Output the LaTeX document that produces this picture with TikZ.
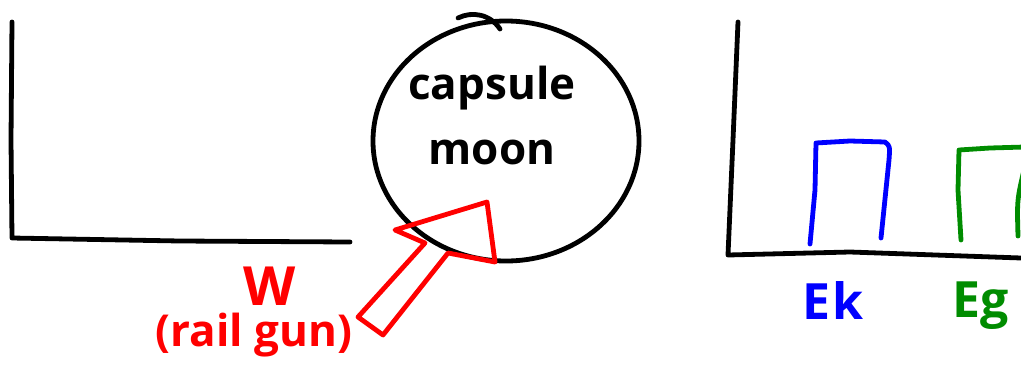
\documentclass[tikz,border=0pt]{standalone}
\usepackage{fontspec}
\setmainfont{Open Sans}
\definecolor{penred}{RGB}{255,0,0}
\definecolor{penblue}{RGB}{0,0,255}
\definecolor{pengreen}{RGB}{0,140,0}
\begin{document}
\begin{tikzpicture}[x=1pt,y=-1pt,
  pen/.style={line width=4.8pt,line cap=round,line join=round},
  hand/.style={font=\fontsize{44}{50}\selectfont\bfseries,inner sep=0pt}]
\useasboundingbox (0,0) rectangle (1021,365);
% left axes
\draw[pen] (12,22) -- (11,140) -- (12,238) -- (180,241) -- (350,242);
% moon circle
\draw[pen] (506,141) ellipse [x radius=133, y radius=120];
\draw[pen] (458,18) .. controls (472,11) and (490,14) .. (500,29);
\node[hand] (capsule) at (492,88) {capsule};
\node[hand] (moon) at (492,152) {moon};
% rail gun arrow
\draw[pen,penred] (425,243) -- (358,317) -- (383,335) -- (448,253) -- (495,262) -- (487,202) -- (395,230) -- cycle;
\node[hand,text=penred,font=\fontsize{54}{60}\selectfont\bfseries] (W) at (270,286) {W};
\node[hand,text=penred] (railgun) at (254,335) {(rail gun)};
% right axes
\draw[pen] (738,22) -- (733,140) -- (728,255) -- (850,252) -- (1021,258);
% bars
\draw[pen,penblue] (810,244) -- (815,190) -- (816,143) -- (850,141) -- (885,142) .. controls (890,146) .. (889,160) -- (881,238);
\draw[pen,pengreen] (961,240) -- (958,190) -- (959,150) -- (990,148) -- (1025,147);
\draw[pen,pengreen] (1018,236) .. controls (1017,200) .. (1024,170);
\node[hand,text=penblue,font=\fontsize{50}{56}\selectfont\bfseries] (Ek) at (833,300) {E\kern2pt k};
\node[hand,text=pengreen,anchor=west,font=\fontsize{50}{56}\selectfont\bfseries] (Eg) at (952,306) {Eg};
\end{tikzpicture}
\end{document}
